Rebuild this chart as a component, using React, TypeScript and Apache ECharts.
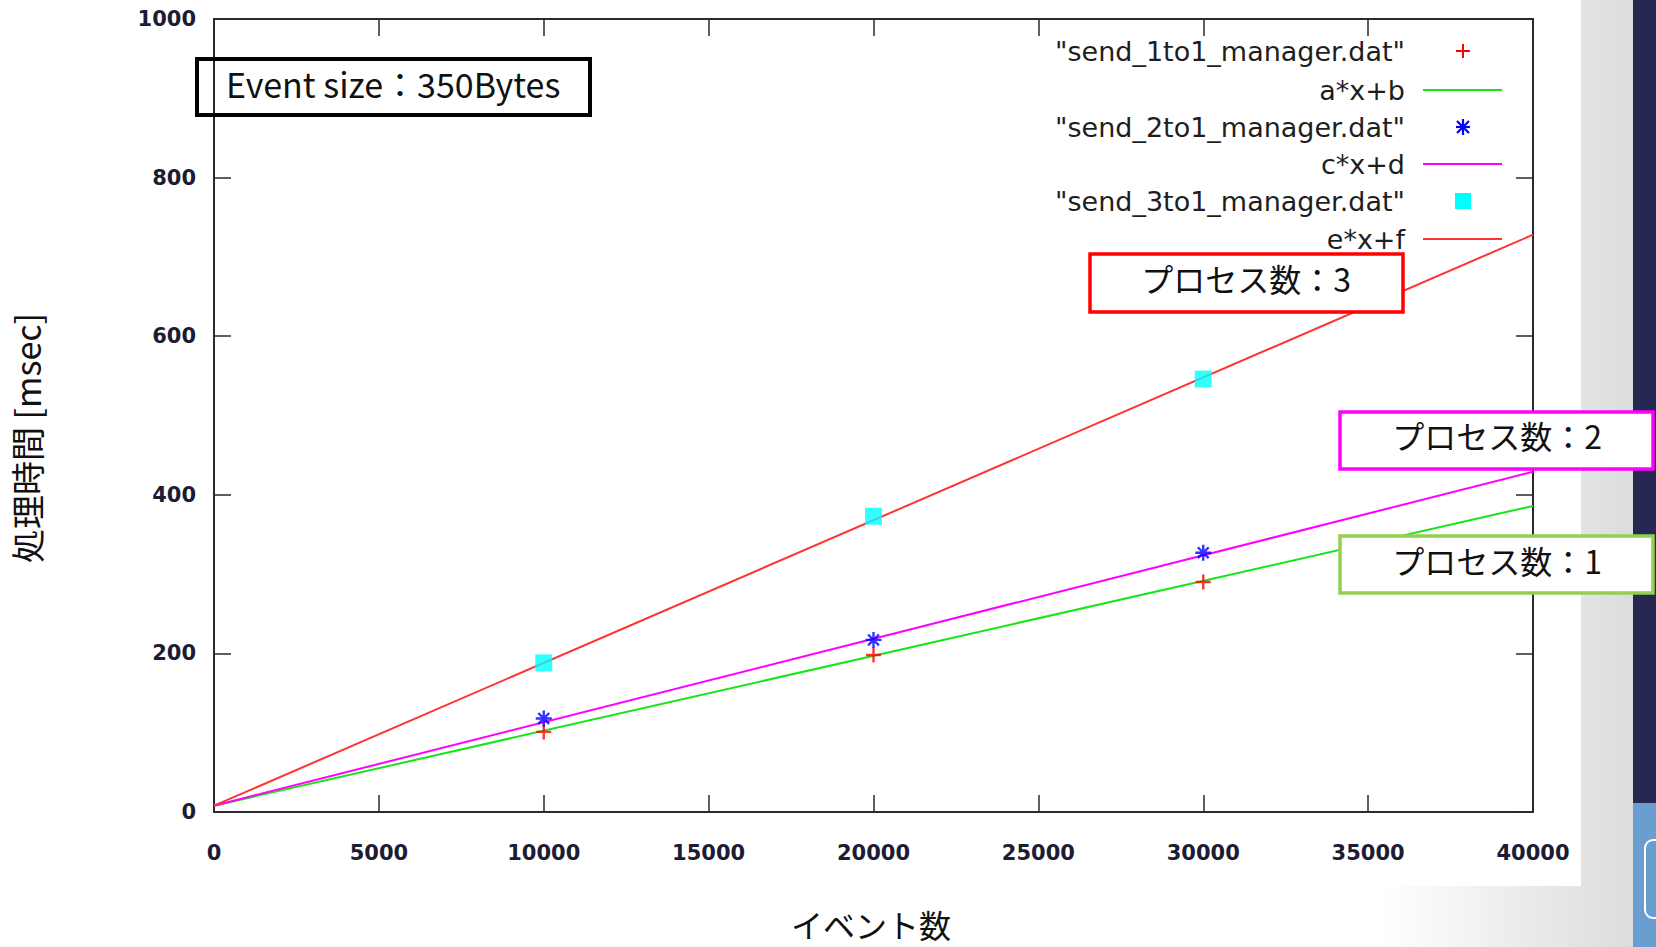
import React, { useEffect, useRef } from "react";
import * as echarts from "echarts";

// ---- data ----
const eventCounts = [10000, 20000, 30000];
const send1to1 = [101, 198, 290];
const send2to1 = [118, 217, 327];
const send3to1 = [188, 373, 546];
const fitX = [0, 40000];
const fitAB = [8, 386];
const fitCD = [8, 429];
const fitEF = [8, 728];

const seriesNames = [
  '"send_1to1_manager.dat"',
  "a*x+b",
  '"send_2to1_manager.dat"',
  "c*x+d",
  '"send_3to1_manager.dat"',
  "e*x+f",
];
const xName = "イベント数";
const yName = "処理時間 [msec]";
const noteText = "Event size：350Bytes";
const procLabels = ["プロセス数：3", "プロセス数：2", "プロセス数：1"];

const RED = "#ff0000";
const GREEN = "#16e616";
const MAGENTA = "#ff00ff";
const FITRED = "#ff3333";
const BLUE = "#0000ff";
const CYAN = "#00ffff";

const PLUS = "path://M4.2,0H5.8V4.2H10V5.8H5.8V10H4.2V5.8H0V4.2H4.2Z";
const STAR = "path://M5,0L5,10M0,5L10,5M1.6,1.6L8.4,8.4M8.4,1.6L1.6,8.4";

export default function App() {
  const ref = useRef<HTMLDivElement>(null);
  useEffect(() => {
    const chart = echarts.init(ref.current!, null, { renderer: "svg" });
    const labelStyle = {
      color: "#1c1c34",
      fontFamily: "DejaVu Sans",
      fontSize: 21,
      fontWeight: "bold" as const,
    };
    const axisLine = { show: true, onZero: false, lineStyle: { color: "#2a2a2a", width: 2 } };
    const axisTick = { show: true, inside: true, length: 17, lineStyle: { color: "#2a2a2a", width: 1.5 } };
    const fmt = (v: number) => String(v);

    const bgGrad = new echarts.graphic.LinearGradient(
      1380, 0, 1633, 0,
      [
        { offset: 0, color: "#ffffff" },
        { offset: 1, color: "#dcdcdc" },
      ],
      true
    );

    const legendX = 1405;
    const rowY = [51, 90, 127, 164, 201, 239];
    const sampleL = 1423;
    const sampleR = 1502;
    const symX = 1463;
    const legendFont = { fontFamily: "DejaVu Sans", fontSize: 27, fill: "#1e1e1e" };

    const legendGraphics: any[] = [];
    seriesNames.forEach((name, i) => {
      legendGraphics.push({
        type: "text",
        x: legendX,
        y: rowY[i],
        silent: true,
        z: 50,
        style: { text: name, ...legendFont, textAlign: "right", textVerticalAlign: "middle" },
      });
    });
    legendGraphics.push(
      { type: "line", z: 50, silent: true, shape: { x1: symX - 7, y1: rowY[0], x2: symX + 7, y2: rowY[0] }, style: { stroke: RED, lineWidth: 2 } },
      { type: "line", z: 50, silent: true, shape: { x1: symX, y1: rowY[0] - 7, x2: symX, y2: rowY[0] + 7 }, style: { stroke: RED, lineWidth: 2 } },
      { type: "line", z: 50, silent: true, shape: { x1: sampleL, y1: rowY[1], x2: sampleR, y2: rowY[1] }, style: { stroke: GREEN, lineWidth: 2 } },
      { type: "line", z: 50, silent: true, shape: { x1: symX - 7, y1: rowY[2], x2: symX + 7, y2: rowY[2] }, style: { stroke: BLUE, lineWidth: 2.2 } },
      { type: "line", z: 50, silent: true, shape: { x1: symX, y1: rowY[2] - 8, x2: symX, y2: rowY[2] + 8 }, style: { stroke: BLUE, lineWidth: 2.2 } },
      { type: "line", z: 50, silent: true, shape: { x1: symX - 6, y1: rowY[2] - 6, x2: symX + 6, y2: rowY[2] + 6 }, style: { stroke: BLUE, lineWidth: 2.2 } },
      { type: "line", z: 50, silent: true, shape: { x1: symX + 6, y1: rowY[2] - 6, x2: symX - 6, y2: rowY[2] + 6 }, style: { stroke: BLUE, lineWidth: 2.2 } },
      { type: "line", z: 50, silent: true, shape: { x1: sampleL, y1: rowY[3], x2: sampleR, y2: rowY[3] }, style: { stroke: MAGENTA, lineWidth: 2 } },
      { type: "rect", z: 50, silent: true, shape: { x: symX - 8, y: rowY[4] - 8, width: 16, height: 16 }, style: { fill: CYAN } },
      { type: "line", z: 50, silent: true, shape: { x1: sampleL, y1: rowY[5], x2: sampleR, y2: rowY[5] }, style: { stroke: FITRED, lineWidth: 2 } }
    );

    const boxText = { fontFamily: "Noto Sans CJK JP", fontSize: 32, fill: "#111111" };

    const option: any = {
      animation: false,
      backgroundColor: "#ffffff",
      grid: { left: 214, right: 123, top: 19, bottom: 135, containLabel: false },
      xAxis: [
        {
          type: "value", min: 0, max: 40000, interval: 5000, position: "bottom",
          axisLine, axisTick, splitLine: { show: false },
          axisLabel: { ...labelStyle, margin: 30, formatter: fmt },
        },
        {
          type: "value", min: 0, max: 40000, interval: 5000, position: "top",
          axisLine, axisTick, splitLine: { show: false }, axisLabel: { show: false },
        },
      ],
      yAxis: [
        {
          type: "value", min: 0, max: 1000, interval: 200, position: "left",
          axisLine, axisTick, splitLine: { show: false },
          axisLabel: { ...labelStyle, margin: 18, formatter: fmt },
        },
        {
          type: "value", min: 0, max: 1000, interval: 200, position: "right",
          axisLine, axisTick, splitLine: { show: false }, axisLabel: { show: false },
        },
      ],
      series: [
        {
          name: seriesNames[1], type: "line", showSymbol: false, z: 2,
          data: fitX.map((x, i) => [x, fitAB[i]]),
          lineStyle: { color: GREEN, width: 2 },
        },
        {
          name: seriesNames[3], type: "line", showSymbol: false, z: 2,
          data: fitX.map((x, i) => [x, fitCD[i]]),
          lineStyle: { color: MAGENTA, width: 2 },
        },
        {
          name: seriesNames[5], type: "line", showSymbol: false, z: 2,
          data: fitX.map((x, i) => [x, fitEF[i]]),
          lineStyle: { color: FITRED, width: 2 },
        },
        {
          name: seriesNames[0], type: "scatter", z: 4, symbol: PLUS, symbolSize: 15,
          data: eventCounts.map((x, i) => [x, send1to1[i]]),
          itemStyle: { color: RED },
        },
        {
          name: seriesNames[2], type: "scatter", z: 4, symbol: STAR, symbolSize: 16,
          data: eventCounts.map((x, i) => [x, send2to1[i]]),
          itemStyle: { color: "none", borderColor: BLUE, borderWidth: 2.4 },
        },
        {
          name: seriesNames[4], type: "scatter", z: 3, symbol: "rect", symbolSize: 17,
          data: eventCounts.map((x, i) => [x, send3to1[i]]),
          itemStyle: { color: CYAN },
        },
      ],
      graphic: [
        // slide background
        { type: "rect", z: -1, silent: true, shape: { x: 1581, y: 0, width: 60, height: 947 }, style: { fill: bgGrad } },
        { type: "rect", z: -1, silent: true, shape: { x: 1380, y: 886, width: 260, height: 61 }, style: { fill: bgGrad } },
        { type: "rect", z: 1, silent: true, shape: { x: 1633, y: 0, width: 23, height: 803 }, style: { fill: "#262852" } },
        { type: "rect", z: 1, silent: true, shape: { x: 1633, y: 803, width: 23, height: 144 }, style: { fill: "#6a9ed0" } },
        { type: "rect", z: 2, silent: true, shape: { x: 1645, y: 840, width: 30, height: 78, r: 8 }, style: { fill: "none", stroke: "#ffffff", lineWidth: 2 } },
        // axis names
        {
          type: "text", z: 50, silent: true, x: 26, y: 438, rotation: Math.PI / 2,
          style: { text: yName, fontFamily: "Noto Sans CJK JP", fontSize: 34, fill: "#111111", textAlign: "center", textVerticalAlign: "middle" },
        },
        {
          type: "text", z: 50, silent: true, x: 871, y: 924,
          style: { text: xName, fontFamily: "Noto Sans CJK JP", fontSize: 32, fill: "#111111", textAlign: "center", textVerticalAlign: "middle" },
        },
        // note box
        { type: "rect", z: 60, silent: true, shape: { x: 197, y: 59, width: 393, height: 56 }, style: { fill: "none", stroke: "#000000", lineWidth: 4 } },
        {
          type: "text", z: 61, silent: true, x: 226, y: 83,
          style: { text: noteText, ...boxText, fontSize: 34, textAlign: "left", textVerticalAlign: "middle" },
        },
        // process boxes
        { type: "rect", z: 60, silent: true, shape: { x: 1090, y: 254, width: 313, height: 58 }, style: { fill: "#ffffff", stroke: "#ff0000", lineWidth: 3.5 } },
        { type: "text", z: 61, silent: true, x: 1246, y: 278, style: { text: procLabels[0], ...boxText, textAlign: "center", textVerticalAlign: "middle" } },
        { type: "rect", z: 60, silent: true, shape: { x: 1340, y: 412, width: 313, height: 57 }, style: { fill: "#ffffff", stroke: "#ff00ff", lineWidth: 3.5 } },
        { type: "text", z: 61, silent: true, x: 1497, y: 435, style: { text: procLabels[1], ...boxText, textAlign: "center", textVerticalAlign: "middle" } },
        { type: "rect", z: 60, silent: true, shape: { x: 1340, y: 536, width: 313, height: 57 }, style: { fill: "#ffffff", stroke: "#92d050", lineWidth: 3.5 } },
        { type: "text", z: 61, silent: true, x: 1497, y: 560, style: { text: procLabels[2], ...boxText, textAlign: "center", textVerticalAlign: "middle" } },
        ...legendGraphics,
      ],
    };
    chart.setOption(option);
    return () => chart.dispose();
  }, []);
  return (
    <div
      ref={ref}
      style={{ position: "absolute", left: 0, top: 0, width: 1656, height: 947 }}
    />
  );
}
